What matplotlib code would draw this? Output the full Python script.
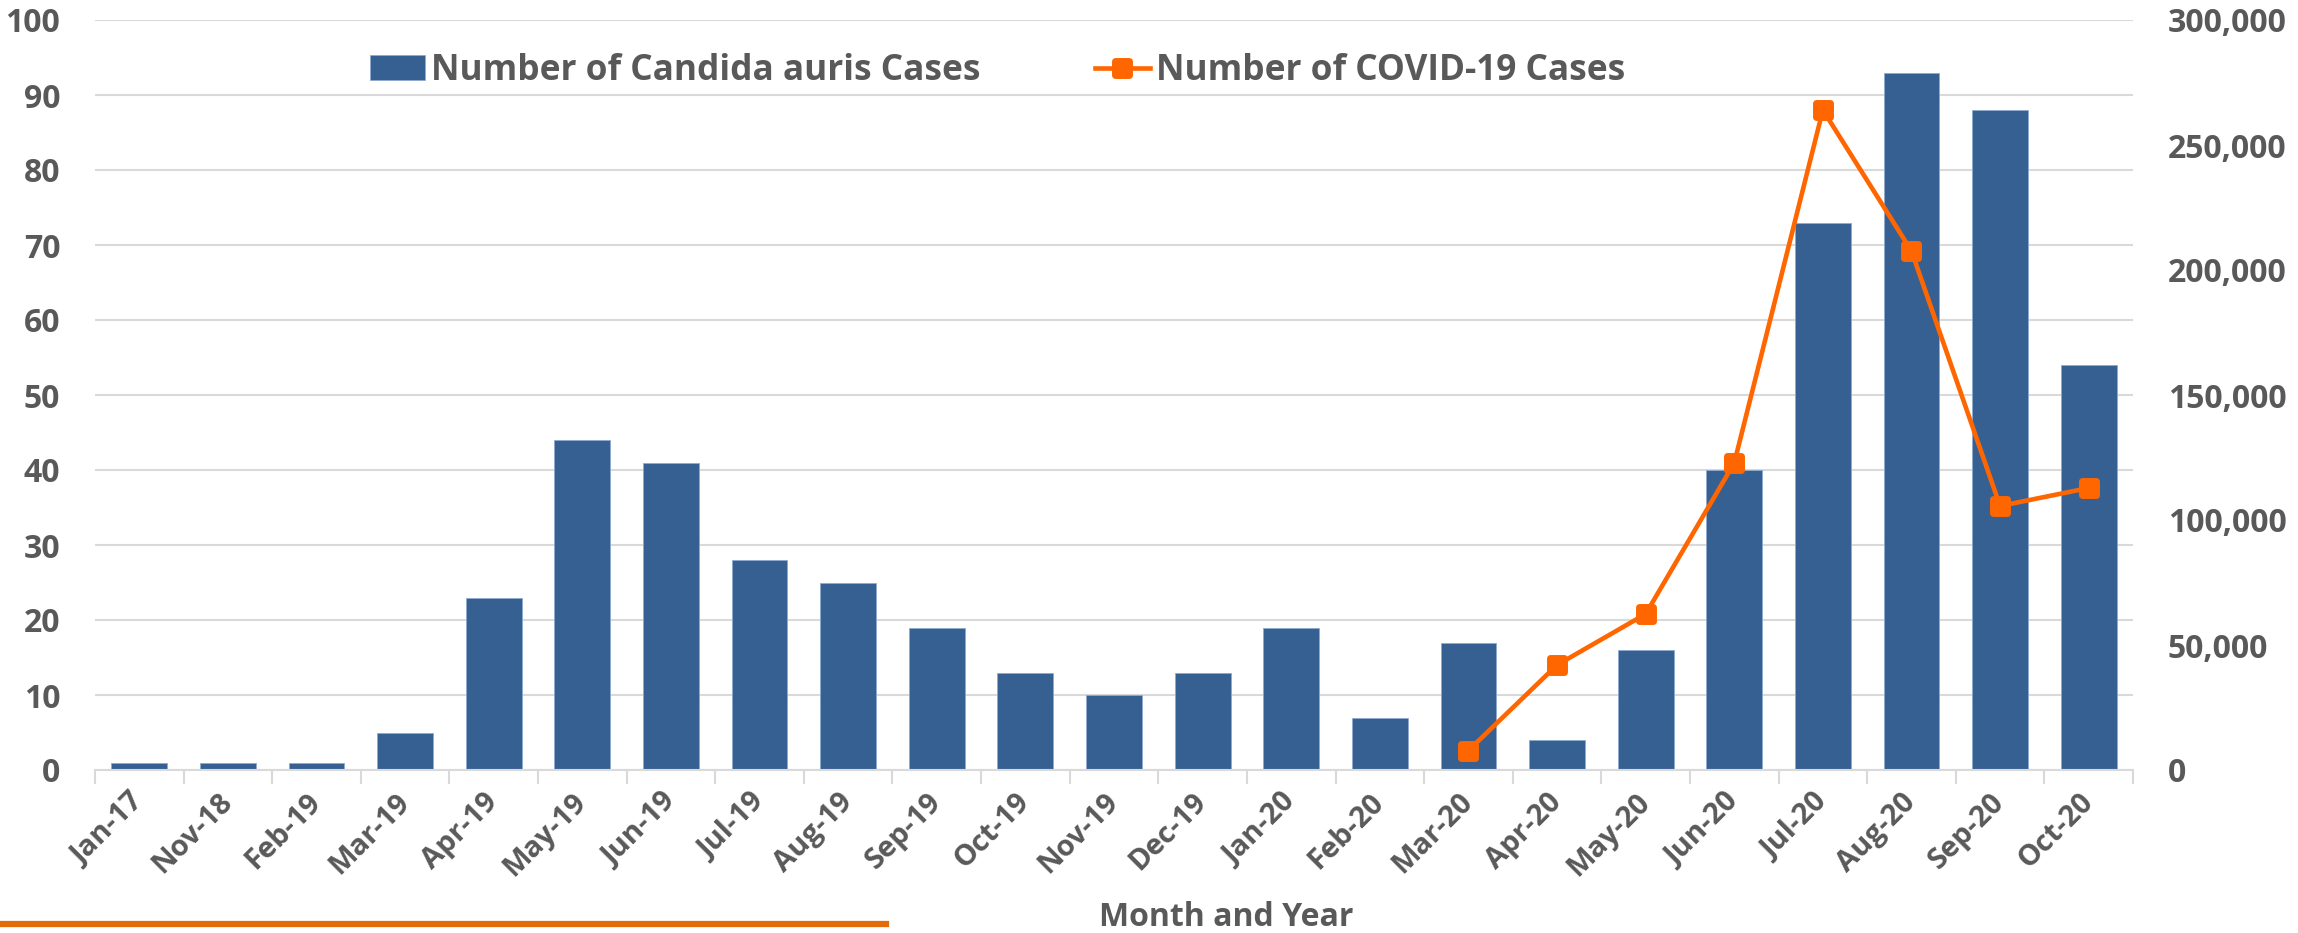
import matplotlib
matplotlib.use("Agg")
import matplotlib.pyplot as plt
from matplotlib.lines import Line2D
from matplotlib.markers import MarkerStyle
from matplotlib.ticker import FuncFormatter, FixedLocator
import numpy as np

months = ["Jan-17", "Nov-18", "Feb-19", "Mar-19", "Apr-19", "May-19", "Jun-19",
          "Jul-19", "Aug-19", "Sep-19", "Oct-19", "Nov-19", "Dec-19", "Jan-20",
          "Feb-20", "Mar-20", "Apr-20", "May-20", "Jun-20", "Jul-20", "Aug-20",
          "Sep-20", "Oct-20"]
candida_cases = [1, 1, 1, 5, 23, 44, 41, 28, 25, 19, 13, 10, 13, 19, 7, 17, 4, 16,
                 40, 73, 93, 88, 54]
covid_months = ["Mar-20", "Apr-20", "May-20", "Jun-20", "Jul-20", "Aug-20", "Sep-20", "Oct-20"]
covid_cases = [7800, 42000, 62400, 122800, 264000, 207600, 105600, 112800]

BLUE = "#376092"
ORANGE = "#FF6600"
GRAY = "#595959"
GRID = "#D9D9D9"

plt.rcParams['font.family'] = ['Open Sans', 'DejaVu Sans']
plt.rcParams['font.weight'] = 'bold'

fig = plt.figure(figsize=(22.98, 9.33), dpi=100)
W, H = 2298, 933
left, right, top, bottom = 95, 2133, 20, 770
ax = fig.add_axes([left / W, 1 - bottom / H, (right - left) / W, (bottom - top) / H])
ax2 = ax.twinx()

x = np.arange(len(months))
ax.bar(x, candida_cases, width=0.63, color=BLUE, edgecolor="#8faad0", linewidth=0.6,
       zorder=2, label="Number of Candida auris Cases")
ax.set_xlim(-0.5, len(months) - 0.5)
ax.set_ylim(0, 100)
ax.set_yticks(np.arange(0, 101, 10))
ax.grid(axis='y', color=GRID, linewidth=1.5, zorder=0)
ax.set_axisbelow(True)

mk = MarkerStyle('s', joinstyle='round')
cx = [months.index(m) for m in covid_months]
ax2.plot(cx, covid_cases, color=ORANGE, linewidth=3.3, marker=mk, markersize=9.5,
         markeredgewidth=5, markeredgecolor=ORANGE, markerfacecolor=ORANGE,
         zorder=5, label="Number of COVID-19 Cases")
ax2.set_ylim(0, 300000)
ax2.set_yticks(np.arange(0, 300001, 50000))
ax2.yaxis.set_major_formatter(FuncFormatter(lambda v, p: f"{int(v):,}"))

for a in (ax, ax2):
    for s in a.spines.values():
        s.set_visible(False)
ax.spines['bottom'].set_visible(True)
ax.spines['bottom'].set_color(GRID)
ax.spines['bottom'].set_linewidth(1.5)

ax.tick_params(axis='y', length=0, pad=25, labelsize=23, labelcolor=GRAY)
ax2.tick_params(axis='y', length=0, pad=25, labelsize=23, labelcolor=GRAY)
for lbl in ax.get_yticklabels() + ax2.get_yticklabels():
    lbl.set_fontweight('bold')

# x ticks: boundary tick marks, labels at centers
ax.xaxis.set_major_locator(FixedLocator(np.arange(-0.5, len(months), 1.0)))
ax.tick_params(axis='x', which='major', length=10, width=1.5, color=GRID, labelbottom=False)
ax.set_xticks(x, minor=True)
ax.tick_params(axis='x', which='minor', length=0, pad=20, labelsize=21, labelcolor=GRAY)
ax.set_xticklabels(months, minor=True, rotation=45, ha='right', va='center',
                   rotation_mode='anchor', fontweight='bold')

fig.text(1226 / W, 1 - 926 / H, "Month and Year", ha='center', va='baseline',
         fontsize=23, color=GRAY, fontweight='bold')

# decorative orange rule at bottom left
fig.add_artist(Line2D([0, 886 / W], [1 - 924 / H, 1 - 924 / H], color="#E36C0A",
                      linewidth=4.5, transform=fig.transFigure))

h1, l1 = ax.get_legend_handles_labels()
h2, l2 = ax2.get_legend_handles_labels()
leg = fig.legend(h1 + h2, l1 + l2, ncol=2, loc='center left',
                 bbox_to_anchor=(370 / W, 1 - 71 / H), frameon=False,
                 fontsize=25.4, handlelength=1.55, handletextpad=0.17,
                 columnspacing=3.25, labelcolor=GRAY, borderpad=0, borderaxespad=0)
for t in leg.get_texts():
    t.set_fontweight('bold')

fig.savefig("out.png", dpi=100)
